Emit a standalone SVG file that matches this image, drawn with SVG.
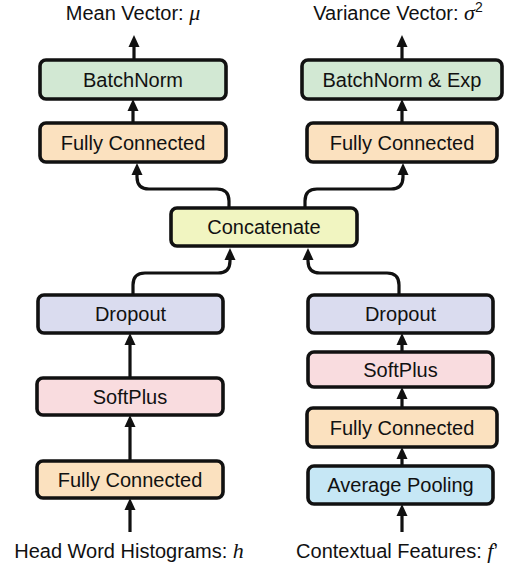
<svg xmlns="http://www.w3.org/2000/svg" width="512" height="568" viewBox="0 0 512 568">
<style>
.box{stroke:#111;stroke-width:3.6}
.t{font-family:"Liberation Sans",Arial,sans-serif;font-size:20px;fill:#111;text-anchor:middle}
.m{font-family:"Liberation Serif","Times New Roman",serif;font-style:italic;font-size:22px}
.c{fill:none;stroke:#111;stroke-width:3.2;marker-end:url(#ah)}
.bn{fill:#d2e8d3}.fc{fill:#fbe1bf}.cc{fill:#f1f5c1}.dr{fill:#dadcef}.sp{fill:#f9dcdf}.ap{fill:#c6e7f5}
</style>
<defs>
<marker id="ah" markerWidth="12" markerHeight="12" refX="4" refY="6" orient="auto" markerUnits="userSpaceOnUse">
<path d="M0,0.5 L12,6 L0,11.5 z" fill="#111"/>
</marker>
</defs>
<rect width="512" height="568" fill="#fff"/>
<g id="connectors">
<path class="c" d="M134,60 V43"/>
<path class="c" d="M402,60 V43"/>
<path class="c" d="M133,123 V107"/>
<path class="c" d="M402,123 V107"/>
<path class="c" d="M229,208 V201 Q229,189 217,189 H149 Q137,189 137,177 V171"/>
<path class="c" d="M305,208 V201 Q305,189 317,189 H391 Q403,189 403,177 V171"/>
<path class="c" d="M133,295 V285 Q133,273 145,273 H218 Q230,273 230,261 V256"/>
<path class="c" d="M399,295 V285 Q399,273 387,273 H320 Q308,273 308,261 V256"/>
<path class="c" d="M130,378 V341"/>
<path class="c" d="M130,461 V423"/>
<path class="c" d="M130,532 V506"/>
<path class="c" d="M402,352 V341"/>
<path class="c" d="M402,408 V395"/>
<path class="c" d="M402,466 V455"/>
<path class="c" d="M402,532 V512"/>
</g>
<g id="label-mean"><text class="t" x="133" y="20">Mean Vector: <tspan class="m">μ</tspan></text></g>
<g id="label-var"><text class="t" x="398" y="20">Variance Vector: <tspan class="m">σ</tspan><tspan font-size="14" dy="-8">2</tspan></text></g>
<g id="bn-left"><rect class="box bn" x="40" y="60" width="186" height="39" rx="6"/><text class="t" x="133" y="86.5">BatchNorm</text></g>
<g id="bn-right"><rect class="box bn" x="302" y="60" width="200" height="39" rx="6"/><text class="t" x="402" y="86.5">BatchNorm &amp; Exp</text></g>
<g id="fc-top-left"><rect class="box fc" x="40" y="123" width="186" height="39" rx="6"/><text class="t" x="133" y="149.5">Fully Connected</text></g>
<g id="fc-top-right"><rect class="box fc" x="307" y="123" width="190" height="39" rx="6"/><text class="t" x="402" y="149.5">Fully Connected</text></g>
<g id="concat"><rect class="box cc" x="171" y="208" width="186" height="38" rx="6"/><text class="t" x="264" y="234">Concatenate</text></g>
<g id="dropout-left"><rect class="box dr" x="38" y="295" width="185" height="38" rx="6"/><text class="t" x="130.5" y="321">Dropout</text></g>
<g id="dropout-right"><rect class="box dr" x="308" y="295" width="185" height="38" rx="6"/><text class="t" x="400.5" y="321">Dropout</text></g>
<g id="softplus-right"><rect class="box sp" x="308" y="352" width="185" height="35" rx="6"/><text class="t" x="400.5" y="376.5">SoftPlus</text></g>
<g id="softplus-left"><rect class="box sp" x="37" y="378" width="186" height="37" rx="6"/><text class="t" x="130" y="403.5">SoftPlus</text></g>
<g id="fc-bottom-right"><rect class="box fc" x="307" y="408" width="190" height="39" rx="6"/><text class="t" x="402" y="434.5">Fully Connected</text></g>
<g id="fc-bottom-left"><rect class="box fc" x="37" y="461" width="186" height="37" rx="6"/><text class="t" x="130" y="486.5">Fully Connected</text></g>
<g id="avgpool"><rect class="box ap" x="308" y="466" width="185" height="38" rx="6"/><text class="t" x="400.5" y="492">Average Pooling</text></g>
<g id="label-head"><text class="t" x="129" y="558">Head Word Histograms: <tspan class="m">h</tspan></text></g>
<g id="label-ctx"><text class="t" x="397" y="558">Contextual Features: <tspan class="m">f</tspan>’</text></g>
</svg>
